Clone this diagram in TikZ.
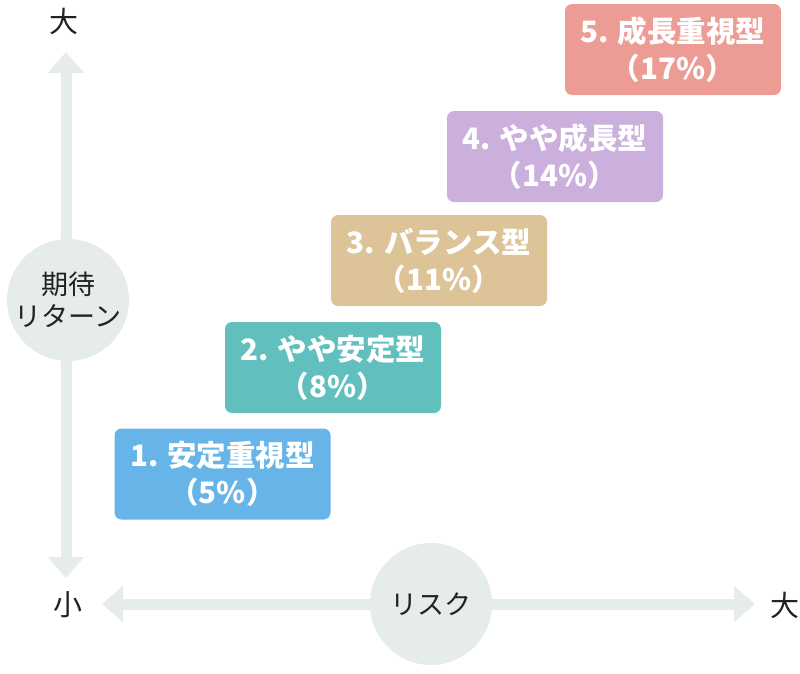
\documentclass[tikz,border=0pt]{standalone}
\usepackage{fontspec}
\setmainfont{Noto Sans CJK JP}
\usetikzlibrary{arrows.meta}
\definecolor{axisc}{HTML}{E5ECEA}
\definecolor{txtc}{HTML}{222222}
\definecolor{c1}{HTML}{67B4E8}
\definecolor{c2}{HTML}{61BFBE}
\definecolor{c3}{HTML}{DCC498}
\definecolor{c4}{HTML}{CBAFDC}
\definecolor{c5}{HTML}{EC9C94}
\tikzset{
  axisline/.style={draw=axisc, line width=11pt, {Triangle[width=35pt,length=21pt]}-{Triangle[width=35pt,length=21pt]}},
  bubble/.style={circle, fill=axisc, minimum size=122pt, inner sep=0pt, align=center, text=txtc, font=\fontsize{27}{32}\selectfont},
  endlabel/.style={text=txtc, font=\fontsize{29}{32}\selectfont},
  stepbox/.style={rounded corners=7pt, minimum width=216pt, minimum height=91pt, inner sep=0pt, align=center, text=white, font=\bfseries\fontsize{29.5}{37}\selectfont},
}
\begin{document}
\begin{tikzpicture}[x=1pt,y=-1pt]
\useasboundingbox (0,0) rectangle (800,673);
% axes
\coordinate (vtop) at (66,52);
\coordinate (vbot) at (66,578);
\coordinate (hleft) at (102,604);
\coordinate (hright) at (755,604);
\draw[axisline] (vbot) -- (vtop);
\draw[axisline] (hleft) -- (hright);
\node[bubble] (ret) at (68,300) {期待\\リターン};
\node[bubble] (risk) at (431,604) {リスク};
\node[endlabel] (vbig) at (64,21) {大};
\node[endlabel] (small) at (68,605) {小};
\node[endlabel] (hbig) at (785,605) {大};
% boxes
\node[stepbox, fill=c1] (b1) at (222.5,474) {1. 安定重視型\\（5\%）};
\node[stepbox, fill=c2] (b2) at (333,367.5) {2. やや安定型\\（8\%）};
\node[stepbox, fill=c3] (b3) at (439,260.5) {3. バランス型\\（11\%）};
\node[stepbox, fill=c4] (b4) at (555,156.5) {4. やや成長型\\（14\%）};
\node[stepbox, fill=c5] (b5) at (673,49.5) {5. 成長重視型\\（17\%）};
\end{tikzpicture}
\end{document}
